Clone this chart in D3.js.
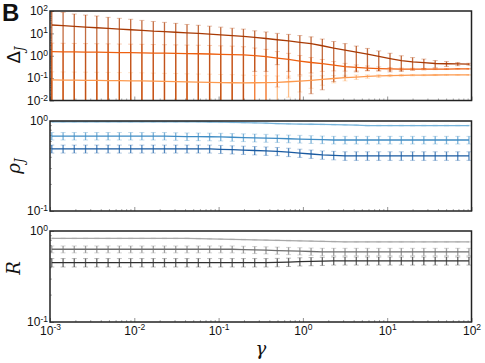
<!DOCTYPE html>
<html>
<head>
<meta charset="utf-8">
<script src="https://cdn.jsdelivr.net/npm/d3@7"></script>
<style>
  body { margin: 0; background: #fff; }
  svg { display: block; font-family: "DejaVu Sans", sans-serif; }
</style>
</head>
<body>
<svg width="485" height="363"></svg>
<script>
// gamma values (x)
var gamma = [0.00105, 0.00143, 0.00194, 0.00264, 0.00359, 0.00489, 0.00665, 0.00906, 0.0123, 0.0168,
  0.0228, 0.0310, 0.0422, 0.0575, 0.0782, 0.106, 0.145, 0.197, 0.268, 0.365,
  0.497, 0.676, 0.920, 1.25, 1.70, 2.32, 3.16, 4.30, 5.83, 7.94,
  10.8, 14.7, 20.0, 27.2, 37.1, 50.5, 68.7, 93.3];

// Delta_J panel
var deltaDark = [23.7, 22.1, 20.5, 19.1, 17.8, 16.6, 15.4, 14.5, 13.5, 12.5, 11.9, 11.2, 10.6, 10.0, 9.2, 8.6, 7.9, 7.3, 6.6, 5.9,
  5.2, 4.6, 4.0, 3.5, 2.8, 2.2, 1.8, 1.45, 1.17, 0.93, 0.74, 0.60, 0.53, 0.49, 0.45, 0.44, 0.43, 0.42];
var deltaDarkErr = [71.3, 64.9, 52.5, 46.9, 42.2, 35.4, 31.6, 28.1, 24.5, 21.5, 19.1, 16.8, 14.4, 13, 11.8, 10.4, 9.1, 8.2, 6.4, 5.7,
  4.8, 4.4, 3.99, 3.48, 2.77, 2.13, 1.69, 1.26, 0.95, 0.72, 0.55, 0.40, 0.30, 0.22, 0.16, 0.11, 0.07, 0.04];
var deltaMid = [1.52, 1.50, 1.48, 1.46, 1.44, 1.42, 1.39, 1.37, 1.35, 1.32, 1.30, 1.28, 1.25, 1.23, 1.20, 1.16, 1.12, 1.10, 1.01, 0.92,
  0.79, 0.69, 0.58, 0.50, 0.44, 0.38, 0.33, 0.30, 0.28, 0.265, 0.257, 0.25, 0.25, 0.25, 0.255, 0.255, 0.26, 0.26];
var deltaMidErr = [2.13, 2.10, 2.07, 2.04, 2.02, 1.99, 1.95, 1.92, 1.89, 1.85, 1.82, 1.79, 1.75, 1.72, 1.68, 1.62, 1.57, 1.43, 1.21, 1.01,
  0.75, 0.59, 0.44, 0.33, 0.24, 0.17, 0.125, 0.09, 0.07, 0.053, 0.039, 0.03, 0.025, 0.02, 0.015, 0.013, 0.01, 0.01];
var deltaLight = [0.083, 0.082, 0.081, 0.080, 0.079, 0.078, 0.077, 0.076, 0.075, 0.073, 0.071, 0.070, 0.068, 0.066, 0.065, 0.063, 0.062, 0.061, 0.062, 0.063,
  0.065, 0.069, 0.074, 0.080, 0.088, 0.096, 0.105, 0.112, 0.119, 0.125, 0.130, 0.134, 0.136, 0.137, 0.138, 0.139, 0.139, 0.139];
var deltaLightErr = [0.108, 0.107, 0.105, 0.104, 0.103, 0.101, 0.100, 0.099, 0.098, 0.095, 0.092, 0.091, 0.088, 0.086, 0.085, 0.082, 0.081, 0.075, 0.07, 0.065,
  0.06, 0.055, 0.05, 0.045, 0.04, 0.035, 0.03, 0.025, 0.02, 0.017, 0.014, 0.012, 0.01, 0.009, 0.008, 0.007, 0.006, 0.005];

// rho_J panel
var rhoLight = [0.98, 0.98, 0.98, 0.98, 0.98, 0.98, 0.98, 0.98, 0.98, 0.98, 0.98, 0.98, 0.98, 0.978, 0.975, 0.97, 0.965, 0.96, 0.955, 0.945,
  0.935, 0.93, 0.925, 0.92, 0.915, 0.91, 0.905, 0.90, 0.89, 0.89, 0.89, 0.89, 0.89, 0.89, 0.89, 0.89, 0.89, 0.89];
var rhoLightErr = [0.01, 0.01, 0.01, 0.01, 0.01, 0.01, 0.01, 0.01, 0.01, 0.01, 0.01, 0.01, 0.01, 0.01, 0.01, 0.01, 0.01, 0.01, 0.01, 0.01,
  0.01, 0.01, 0.01, 0.01, 0.01, 0.01, 0.01, 0.01, 0.01, 0.01, 0.01, 0.01, 0.01, 0.01, 0.01, 0.01, 0.01, 0.01];
var rhoMid = [0.68, 0.68, 0.68, 0.68, 0.68, 0.68, 0.68, 0.68, 0.68, 0.68, 0.68, 0.675, 0.672, 0.67, 0.668, 0.665, 0.66, 0.655, 0.65, 0.645,
  0.64, 0.635, 0.63, 0.625, 0.62, 0.615, 0.615, 0.615, 0.615, 0.615, 0.615, 0.615, 0.615, 0.615, 0.615, 0.615, 0.615, 0.615];
var rhoMidErr = [0.065, 0.065, 0.065, 0.065, 0.065, 0.065, 0.065, 0.065, 0.065, 0.065, 0.065, 0.065, 0.065, 0.065, 0.065, 0.065, 0.065, 0.065, 0.065, 0.065,
  0.062, 0.062, 0.062, 0.062, 0.06, 0.06, 0.06, 0.06, 0.06, 0.06, 0.06, 0.06, 0.06, 0.06, 0.06, 0.06, 0.06, 0.06];
var rhoDark = [0.49, 0.49, 0.49, 0.49, 0.49, 0.49, 0.49, 0.49, 0.49, 0.49, 0.49, 0.49, 0.49, 0.49, 0.49, 0.485, 0.48, 0.475, 0.47, 0.465,
  0.46, 0.45, 0.44, 0.43, 0.42, 0.415, 0.41, 0.41, 0.41, 0.41, 0.41, 0.41, 0.41, 0.41, 0.41, 0.41, 0.41, 0.41];
var rhoDarkErr = [0.05, 0.05, 0.05, 0.05, 0.05, 0.05, 0.05, 0.05, 0.05, 0.05, 0.05, 0.05, 0.05, 0.05, 0.05, 0.05, 0.05, 0.05, 0.05, 0.05,
  0.048, 0.048, 0.046, 0.046, 0.045, 0.045, 0.045, 0.045, 0.045, 0.045, 0.045, 0.045, 0.045, 0.045, 0.045, 0.045, 0.045, 0.045];

// R panel
var rLight = [0.83, 0.83, 0.83, 0.83, 0.83, 0.83, 0.83, 0.83, 0.83, 0.83, 0.83, 0.83, 0.83, 0.825, 0.82, 0.815, 0.81, 0.805, 0.80, 0.795,
  0.79, 0.785, 0.78, 0.775, 0.77, 0.765, 0.76, 0.76, 0.76, 0.76, 0.76, 0.76, 0.76, 0.76, 0.76, 0.76, 0.76, 0.76];
var rLightErr = [0.008, 0.008, 0.008, 0.008, 0.008, 0.008, 0.008, 0.008, 0.008, 0.008, 0.008, 0.008, 0.008, 0.008, 0.008, 0.008, 0.008, 0.008, 0.008, 0.008,
  0.008, 0.008, 0.008, 0.008, 0.008, 0.008, 0.008, 0.008, 0.008, 0.008, 0.008, 0.008, 0.008, 0.008, 0.008, 0.008, 0.008, 0.008];
var rMid = [0.63, 0.63, 0.63, 0.63, 0.63, 0.63, 0.63, 0.63, 0.63, 0.63, 0.63, 0.63, 0.63, 0.63, 0.63, 0.63, 0.63, 0.625, 0.62, 0.615,
  0.61, 0.605, 0.60, 0.595, 0.59, 0.59, 0.59, 0.59, 0.59, 0.59, 0.59, 0.59, 0.59, 0.59, 0.59, 0.59, 0.59, 0.59];
var rMidErr = [0.055, 0.055, 0.055, 0.055, 0.055, 0.055, 0.055, 0.055, 0.055, 0.055, 0.055, 0.055, 0.055, 0.055, 0.055, 0.055, 0.055, 0.055, 0.055, 0.055,
  0.055, 0.055, 0.055, 0.055, 0.055, 0.055, 0.055, 0.055, 0.055, 0.055, 0.055, 0.055, 0.055, 0.055, 0.055, 0.055, 0.055, 0.055];
var rDark = [0.45, 0.45, 0.45, 0.45, 0.45, 0.45, 0.45, 0.45, 0.45, 0.45, 0.45, 0.45, 0.45, 0.45, 0.45, 0.45, 0.45, 0.45, 0.45, 0.45,
  0.452, 0.455, 0.46, 0.463, 0.466, 0.47, 0.47, 0.47, 0.47, 0.47, 0.47, 0.47, 0.47, 0.47, 0.47, 0.47, 0.47, 0.47];
var rDarkErr = [0.048, 0.048, 0.048, 0.048, 0.048, 0.048, 0.048, 0.048, 0.048, 0.048, 0.048, 0.048, 0.048, 0.048, 0.048, 0.048, 0.048, 0.048, 0.048, 0.048,
  0.048, 0.048, 0.048, 0.048, 0.048, 0.048, 0.048, 0.048, 0.048, 0.048, 0.048, 0.048, 0.048, 0.048, 0.048, 0.048, 0.048, 0.048];

var xTicks = [1e-3, 1e-2, 1e-1, 1e0, 1e1, 1e2];

var svg = d3.select("svg");

var x = d3.scaleLog().domain([1e-3, 1e2]).range([50, 471.5]);

var panels = [
  { top: 11, bottom: 100.5, domain: [1e-2, 1e2], yTicks: [1e-2, 1e-1, 1e0, 1e1, 1e2], label: "delta", labelY: 55,
    series: [
      { v: deltaLight, e: deltaLightErr, line: "#fd9a4f", bar: "#fdae6b" },
      { v: deltaMid, e: deltaMidErr, line: "#ee6010", bar: "#f0702a" },
      { v: deltaDark, e: deltaDarkErr, line: "#a83a05", bar: "#b5470f" }
    ] },
  { top: 121, bottom: 211, domain: [0.1, 1], yTicks: [0.1, 1], label: "rho", labelY: 166,
    series: [
      { v: rhoLight, e: rhoLightErr, line: "#74b2da", bar: "#9ecae1" },
      { v: rhoMid, e: rhoMidErr, line: "#3f8cc4", bar: "#5a9fcf" },
      { v: rhoDark, e: rhoDarkErr, line: "#1a5aa0", bar: "#2b6cb0" }
    ] },
  { top: 231, bottom: 322, domain: [0.1, 1], yTicks: [0.1, 1], label: "R", labelY: 268,
    series: [
      { v: rLight, e: rLightErr, line: "#a8a8a8", bar: "#bbbbbb" },
      { v: rMid, e: rMidErr, line: "#6e6e6e", bar: "#888888" },
      { v: rDark, e: rDarkErr, line: "#2f2f2f", bar: "#444444" }
    ] }
];

function supText(sel) {
  sel.each(function (d) {
    var t = d3.select(this);
    var p = Math.round(Math.log10(d));
    t.text(null);
    t.append("tspan").text("10");
    t.append("tspan").attr("dy", "-0.5em").attr("font-size", "8.5px").text(p);
  });
}

panels.forEach(function (p, pi) {
  var y = d3.scaleLog().domain(p.domain).range([p.bottom, p.top]);
  var g = svg.append("g");

  var clipId = "clip" + pi;
  svg.append("clipPath").attr("id", clipId)
    .append("rect").attr("x", x.range()[0]).attr("y", p.top)
    .attr("width", x.range()[1] - x.range()[0]).attr("height", p.bottom - p.top);

  // minor ticks, inside
  var minorX = x.ticks().filter(function (t) { return xTicks.indexOf(t) < 0; });
  g.append("g").attr("transform", "translate(0," + p.bottom + ")")
    .call(d3.axisBottom(x).tickValues(minorX).tickSize(-2).tickFormat(""))
    .call(function (a) { a.select(".domain").remove(); a.selectAll("line").attr("stroke", "#888").attr("stroke-width", 0.7); });
  var minorY = y.ticks().filter(function (t) { return p.yTicks.indexOf(t) < 0; });
  g.append("g").attr("transform", "translate(" + x.range()[0] + ",0)")
    .call(d3.axisLeft(y).tickValues(minorY).tickSize(-2).tickFormat(""))
    .call(function (a) { a.select(".domain").remove(); a.selectAll("line").attr("stroke", "#888").attr("stroke-width", 0.7); });

  // major ticks
  var xa = g.append("g").attr("transform", "translate(0," + p.bottom + ")")
    .call(d3.axisBottom(x).tickValues(xTicks).tickSize(-4).tickPadding(4));
  xa.select(".domain").remove();
  xa.selectAll("line").attr("stroke", "#777").attr("stroke-width", 0.8);
  if (pi === panels.length - 1) {
    xa.selectAll("text").attr("font-size", "12px").attr("fill", "#111").call(supText);
  } else {
    xa.selectAll("text").remove();
  }

  var ya = g.append("g").attr("transform", "translate(" + x.range()[0] + ",0)")
    .call(d3.axisLeft(y).tickValues(p.yTicks).tickSize(-4).tickPadding(2));
  ya.select(".domain").remove();
  ya.selectAll("line").attr("stroke", "#777").attr("stroke-width", 0.8);
  ya.selectAll("text").attr("font-size", "12px").attr("fill", "#111").call(supText);

  var plot = g.append("g").attr("clip-path", "url(#" + clipId + ")");
  var lo = p.domain[0] * 0.5;

  p.series.forEach(function (s) {
    var pts = gamma.map(function (gv, i) { return { x: gv, v: s.v[i], e: s.e[i] }; });
    // error bars
    var eb = plot.append("g").selectAll("g").data(pts).enter().append("g");
    eb.append("line")
      .attr("x1", function (d) { return x(d.x); }).attr("x2", function (d) { return x(d.x); })
      .attr("y1", function (d) { return y(Math.max(d.v - d.e, lo)); })
      .attr("y2", function (d) { return y(d.v + d.e); })
      .attr("stroke", s.bar).attr("stroke-width", 1.3).attr("opacity", 0.8);
    eb.append("line")
      .attr("x1", function (d) { return x(d.x) - 2.5; }).attr("x2", function (d) { return x(d.x) + 2.5; })
      .attr("y1", function (d) { return y(d.v + d.e); }).attr("y2", function (d) { return y(d.v + d.e); })
      .attr("stroke", s.bar).attr("stroke-width", 1).attr("opacity", 0.35);
    eb.filter(function (d) { return d.v - d.e > lo; }).append("line")
      .attr("x1", function (d) { return x(d.x) - 2.5; }).attr("x2", function (d) { return x(d.x) + 2.5; })
      .attr("y1", function (d) { return y(d.v - d.e); }).attr("y2", function (d) { return y(d.v - d.e); })
      .attr("stroke", s.bar).attr("stroke-width", 1).attr("opacity", 0.35);
  });

  p.series.forEach(function (s) {
    var pts = gamma.map(function (gv, i) { return { x: gv, v: s.v[i] }; });
    plot.append("path").datum(pts)
      .attr("fill", "none").attr("stroke", s.line).attr("stroke-width", 1.3)
      .attr("d", d3.line().x(function (d) { return x(d.x); }).y(function (d) { return y(d.v); }));
  });

  // frame
  g.append("rect").attr("x", x.range()[0]).attr("y", p.top)
    .attr("width", x.range()[1] - x.range()[0]).attr("height", p.bottom - p.top)
    .attr("fill", "none").attr("stroke", "#222").attr("stroke-width", 1.5);

  // y label
  var lab = svg.append("text")
    .attr("transform", "translate(20," + p.labelY + ") rotate(-90)")
    .attr("text-anchor", "middle").attr("font-size", "18px").attr("fill", "#111");
  if (p.label === "delta") {
    lab.append("tspan").text("Δ");
    lab.append("tspan").attr("font-family", "DejaVu Serif").attr("font-style", "italic")
      .attr("font-size", "12px").attr("dy", "0.3em").text("J");
  } else if (p.label === "rho") {
    lab.append("tspan").attr("font-family", "DejaVu Serif").attr("font-style", "italic").text("ρ");
    lab.append("tspan").attr("font-family", "DejaVu Serif").attr("font-style", "italic")
      .attr("font-size", "12px").attr("dy", "0.3em").text("J");
  } else {
    lab.attr("font-family", "DejaVu Serif").attr("font-style", "italic").text("R");
  }
});

// x label
svg.append("text").attr("x", 261).attr("y", 355).attr("text-anchor", "middle")
  .attr("font-family", "DejaVu Serif").attr("font-style", "italic")
  .attr("font-size", "18px").attr("fill", "#111").text("γ");

// panel letter
svg.append("text").attr("x", 2).attr("y", 21)
  .attr("font-family", "Liberation Sans, Arial, sans-serif").attr("font-weight", "bold")
  .attr("font-size", "24px").attr("fill", "#111").text("B");
</script>
</body>
</html>
